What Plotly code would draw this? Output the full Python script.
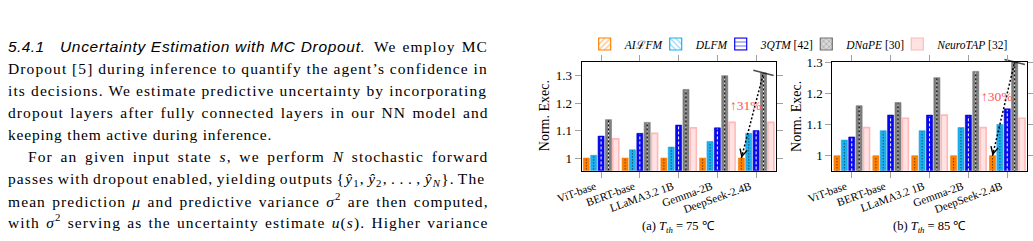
import re
import plotly.graph_objects as go

FIG_W, FIG_H = 1033, 241

# ---------------- data ----------------
categories = ["ViT-base", "BERT-base", "LLaMA3.2 1B", "Gemma-2B", "DeepSeek-2.4B"]
methods = ["AIℒFM", "DLFM", "3QTM", "DNaPE", "NeuroTAP"]
method_refs = ["", "", "[42]", "[30]", "[32]"]
thresholds = [75, 85]

a_ailfm = [1.00, 1.00, 1.00, 1.00, 1.00]
a_dlfm = [1.01, 1.03, 1.04, 1.06, 1.09]
a_3qtm = [1.08, 1.09, 1.12, 1.11, 1.10]
a_dnape = [1.14, 1.13, 1.25, 1.30, 1.31]
a_neurotap = [1.07, 1.09, 1.11, 1.13, 1.13]

b_ailfm = [1.00, 1.00, 1.00, 1.00, 1.00]
b_dlfm = [1.05, 1.08, 1.08, 1.09, 1.10]
b_3qtm = [1.06, 1.13, 1.13, 1.13, 1.15]
b_dnape = [1.16, 1.17, 1.25, 1.27, 1.30]
b_neurotap = [1.09, 1.12, 1.13, 1.09, 1.12]

y_ticks = [1.0, 1.1, 1.2, 1.3]
y_tick_labels = ["1", "1.1", "1.2", "1.3"]

heading_num = "5.4.1"
heading_title = "Uncertainty Estimation with MC Dropout."
heading_tail = "We employ MC"
para_lines = [
    "Dropout [5] during inference to quantify the agent’s confidence in",
    "its decisions. We estimate predictive uncertainty by incorporating",
    "dropout layers after fully connected layers in our NN model and",
    "keeping them active during inference.",
    "For an given input state <i>s</i>, we perform <i>N</i> stochastic forward",
    "passes with dropout enabled, yielding outputs {<i>ŷ</i><sub>1</sub>, <i>ŷ</i><sub>2</sub>, . . . , <i>ŷ</i><sub><i>N</i></sub>}. The",
    "mean prediction <i>μ</i> and predictive variance <i>σ</i><sup>2</sup> are then computed,",
    "with <i>σ</i><sup>2</sup> serving as the uncertainty estimate <i>u</i>(<i>s</i>). Higher variance",
]

# ---------------- styles ----------------
SERIF = "Liberation Serif"
SANS = "Liberation Sans"
bar_colors = ["#FF8000", "#1DB0EE", "#0808F0", "#808080", "#FFE3E3"]
bar_lines = ["#F07800", "#1AA0DD", "#0000C8", "#707070", "#FFB9B9"]
bar_line_w = [0.6, 0.6, 0.6, 0.6, 1.6]
legend_fg = ["#FF8000", "#1DB0EE", "#0808F0", "#707070", "#FFB9B9"]
legend_bg = ["white", "white", "white", "#D8D8D8", "#FFE3E3"]
legend_shape = ["/", "\\", "-", "x", ""]
pitch = 0.19
bar_w = 0.155
offsets = [(k - 2) * pitch for k in range(5)]

x_dom = [[581.7 / FIG_W, 775.5 / FIG_W], [832.3 / FIG_W, 1026.7 / FIG_W]]
y_dom = [1 - 170.7 / FIG_H, 1 - 61.7 / FIG_H]
y_ranges = [[0.954, 1.351], [0.952, 1.301]]

# text width helper (Times / Arial metrics, which Liberation fonts share)
TIMES = {" ": 250, "!": 333, "(": 333, ")": 333, ",": 250, "-": 333, ".": 250,
         ":": 278, ";": 278, "[": 333, "]": 333, "{": 480, "}": 480, "'": 180,
         "’": 333, "ŷ": 500, "μ": 500, "σ": 500}
for ch, w in zip("ABCDEFGHIJKLMNOPQRSTUVWXYZ",
                 [722, 667, 667, 722, 611, 556, 722, 722, 333, 389, 722, 611, 889,
                  722, 722, 556, 722, 667, 556, 611, 722, 722, 944, 722, 722, 611]):
    TIMES[ch] = w
for ch, w in zip("abcdefghijklmnopqrstuvwxyz",
                 [444, 500, 444, 500, 444, 333, 500, 500, 278, 278, 500, 278, 778,
                  500, 500, 500, 500, 333, 389, 278, 500, 500, 722, 500, 500, 444]):
    TIMES[ch] = w
for d in "0123456789":
    TIMES[d] = 500
ARIAL = {" ": 278, ".": 278}
for ch, w in zip("ABCDEFGHIJKLMNOPQRSTUVWXYZ",
                 [667, 667, 722, 722, 667, 611, 778, 722, 278, 500, 667, 556, 833,
                  722, 778, 667, 778, 722, 667, 611, 722, 667, 944, 667, 667, 611]):
    ARIAL[ch] = w
for ch, w in zip("abcdefghijklmnopqrstuvwxyz",
                 [556, 556, 500, 556, 556, 278, 556, 556, 222, 222, 500, 222, 833,
                  556, 556, 556, 556, 333, 500, 278, 556, 500, 722, 500, 500, 500]):
    ARIAL[ch] = w
for d in "0123456789":
    ARIAL[d] = 556


def measure(s, table, size):
    total, n, spaces, scale = 0.0, 0, 0, 1.0
    for tok in re.split(r"(<[^>]+>)", s):
        if tok.startswith("<"):
            t = tok.lower()
            if t in ("<sub>", "<sup>"):
                scale = 0.7
            elif t in ("</sub>", "</sup>"):
                scale = 1.0
            continue
        for ch in tok:
            total += table.get(ch, 500) * scale * size / 1000.0
            n += 1
            if ch == " ":
                spaces += 1
    return total, n, spaces


PSIZE = 15.5
LSP = 1.1


def justify(s, width, table=TIMES, size=PSIZE, lsp=LSP):
    nat, n, sp = measure(s, table, size)
    ws = (width - nat - n * lsp) / sp if sp else 0.0
    return f'<span style="letter-spacing:{lsp:.2f}px;word-spacing:{ws:.2f}px">{s}</span>'


def px2paper(px, py):
    return px / FIG_W, 1 - py / FIG_H


annotations = []


def add_text(text, px, py, size=PSIZE, family=SERIF, xanchor="left", color="black", angle=0):
    x, y = px2paper(px, py)
    annotations.append(dict(text=text, x=x, y=y, xref="paper", yref="paper",
                            xanchor=xanchor, yanchor="middle", showarrow=False,
                            borderpad=0, textangle=angle,
                            font=dict(family=family, size=size, color=color)))


# paragraph text
LEFT, RIGHT = 7.3, 488.0
BASE0, LEAD = 52.0, 22.0
MID = 5.2
add_text(f'<span style="letter-spacing:0.4px"><i>{heading_num}</i></span>', LEFT, BASE0 - MID, family=SANS)
tw, tn, _ = measure(heading_title, ARIAL, PSIZE)
add_text(f'<span style="letter-spacing:{(305.7 - tw) / tn:.2f}px"><i>{heading_title}</i></span>',
         59.3, BASE0 - MID, family=SANS)
add_text(justify(heading_tail, RIGHT - 372.7), 372.7, BASE0 - MID)
for i, line in enumerate(para_lines):
    base = BASE0 + LEAD * (i + 1)
    mid = base - MID
    if "<sub>" in line:
        mid += 1.1
    if "<sup>" in line:
        mid -= 1.2
    if i == 3:
        add_text(f'<span style="letter-spacing:0.8px">{line}</span>', LEFT, mid)
    elif i == 4:
        add_text(justify(line, RIGHT - 26.7), 26.7, mid)
    else:
        add_text(justify(line, RIGHT - LEFT), LEFT, mid)

# ---------------- figure ----------------
fig = go.Figure()
panels = [
    [a_ailfm, a_dlfm, a_3qtm, a_dnape, a_neurotap],
    [b_ailfm, b_dlfm, b_3qtm, b_dnape, b_neurotap],
]
center_styles = [
    [dict(color="rgba(0,0,0,0.8)", dash="1px,2px", width=1)],
    [dict(color="rgba(0,0,0,0.8)", dash="1px,2px", width=1)],
    [dict(color="white", dash="3px,2px", width=1)],
    [dict(color="black", width=1), dict(color="white", dash="2px,2px", width=1)],
    [],
]

for p, series in enumerate(panels):
    xa = "x" if p == 0 else "x2"
    ya = "y" if p == 0 else "y2"
    for k, vals in enumerate(series):
        xs = [i + offsets[k] for i in range(len(categories))]
        fig.add_trace(go.Bar(x=xs, y=vals, width=bar_w, xaxis=xa, yaxis=ya,
                             marker=dict(color=bar_colors[k],
                                         line=dict(color=bar_lines[k], width=bar_line_w[k])),
                             showlegend=False, hoverinfo="skip"))
        for st in center_styles[k]:
            lx, ly = [], []
            for xv, v in zip(xs, vals):
                lx += [xv, xv, None]
                ly += [y_ranges[p][0] - 0.05, v - 0.003, None]
            fig.add_trace(go.Scatter(x=lx, y=ly, mode="lines", line=st, xaxis=xa, yaxis=ya,
                                     showlegend=False, hoverinfo="skip"))
    # improvement arrow on the last group (AIℒFM vs DNaPE)
    g = len(categories) - 1
    x0, y0 = g + offsets[0], series[0][g]
    x1, y1 = g + offsets[3], series[3][g]
    fig.add_trace(go.Scatter(x=[x0, x1], y=[y0, y1], mode="lines+markers", xaxis=xa, yaxis=ya,
                             line=dict(color="black", width=1.5, dash="2px,2px"),
                             marker=dict(symbol="line-ew", size=[0, 15], angleref="previous",
                                         line=dict(color="black", width=1.6)),
                             cliponaxis=False, showlegend=False, hoverinfo="skip"))
    annotations.append(dict(x=x0, y=y0, ax=x0 + 0.06 * (x1 - x0), ay=y0 + 0.06 * (y1 - y0),
                            xref=xa, yref=ya, axref=xa, ayref=ya, text="", showarrow=True,
                            arrowhead=5, arrowsize=1.3, arrowwidth=1.1, arrowcolor="black",
                            standoff=0))
    pct = round((y1 / y0 - 1) * 100)
    annotations.append(dict(x=g - 0.26, y=1.19, xref=xa, yref=ya, text=f"↑{pct}%", showarrow=False,
                            font=dict(family=SERIF, size=13.5, color="#FF5252")))
    # caption
    cx = (x_dom[p][0] + x_dom[p][1]) / 2 * FIG_W
    add_text(f"({'ab'[p]}) <i>T<sub>th</sub></i> = {thresholds[p]} ℃", cx, 226.5, size=12.5,
             xanchor="center")
    # y title
    add_text("Norm. Exec.", [544.0, 795.7][p], 116.2, size=14, xanchor="center", angle=-90)

# legend-only entries
legend_text_x = [620.7, 691.7, 756.7, 842.3, 933.3]
for k, m in enumerate(methods):
    label = m.replace("ℒ", '<span style="font-family:DejaVu Serif;font-style:normal">ℒ</span>')
    name = f"<i>{label}</i>" + (f" {method_refs[k]}" if method_refs[k] else "")
    pat = dict(shape=legend_shape[k], fgcolor=legend_fg[k], bgcolor=legend_bg[k],
               size=5, solidity=0.3) if legend_shape[k] else None
    mk = dict(color=legend_bg[k], line=dict(color=legend_fg[k], width=1.2))
    if pat:
        mk["pattern"] = pat
    fig.add_trace(go.Bar(x=[None], y=[None], name=name, marker=mk, xaxis="x", yaxis="y",
                         legend="legend" if k == 0 else f"legend{k + 1}", showlegend=True))

axis_common = dict(showline=True, linecolor="black", linewidth=1, mirror="ticks",
                   ticks="outside", ticklen=6, tickwidth=1, tickcolor="#A0A0A0",
                   showgrid=False, zeroline=False, automargin=False)
layout = dict(
    width=FIG_W, height=FIG_H, margin=dict(l=0, r=0, t=0, b=0, autoexpand=False),
    paper_bgcolor="white", plot_bgcolor="white", barmode="overlay",
    annotations=annotations,
    font=dict(family=SERIF, color="black"),
)
for p in range(2):
    sx = "" if p == 0 else "2"
    layout["xaxis" + sx] = dict(domain=x_dom[p], range=[-0.5, len(categories) - 0.5],
                                tickvals=list(range(len(categories))), ticktext=categories,
                                tickangle=-20, anchor="y" + sx, ticklabelshift=-6,
                                ticklabelstandoff=-2,
                                tickfont=dict(family=SERIF, size=11.3, color="black"),
                                **axis_common)
    layout["yaxis" + sx] = dict(domain=y_dom, range=y_ranges[p], tickvals=y_ticks,
                                ticktext=y_tick_labels, anchor="x" + sx,
                                tickfont=dict(family=SERIF, size=13, color="black"),
                                **axis_common)
for k in range(len(methods)):
    key = "legend" if k == 0 else f"legend{k + 1}"
    lx, ly = px2paper(legend_text_x[k] - 36, 44)
    layout[key] = dict(x=lx, y=ly, xanchor="left", yanchor="middle", orientation="h",
                       bgcolor="rgba(0,0,0,0)", borderwidth=0,
                       font=dict(family=SERIF, size=11.5, color="black"))
fig.update_layout(**layout)
fig.write_html("out.html")
